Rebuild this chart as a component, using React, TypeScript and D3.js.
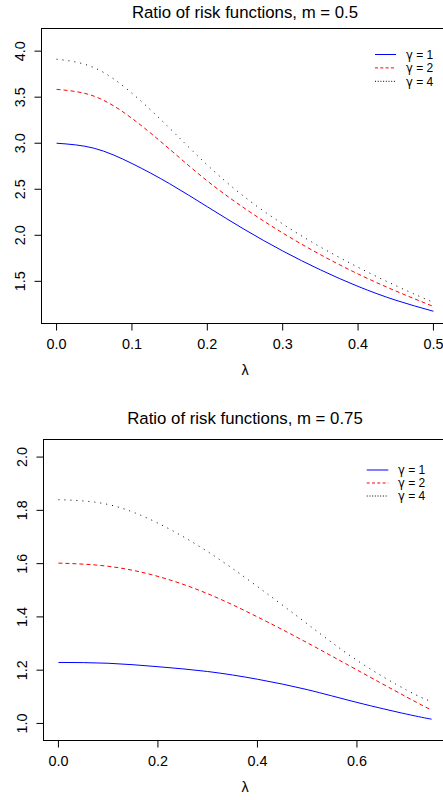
import * as d3 from 'd3';

// lambda grid and ratio values
const lambdaTop = [0, 0.05, 0.1, 0.15, 0.2, 0.25, 0.3, 0.35, 0.4, 0.45, 0.5];
const topGamma1 = [3.0, 2.945, 2.78, 2.56, 2.31, 2.06, 1.83, 1.625, 1.445, 1.295, 1.175];
const topGamma2 = [3.585, 3.51, 3.27, 2.935, 2.59, 2.29, 2.025, 1.79, 1.58, 1.395, 1.227];
const topGamma4 = [3.913, 3.82, 3.543, 3.163, 2.763, 2.413, 2.123, 1.873, 1.653, 1.453, 1.27];

const lambdaBottom = [0, 0.1, 0.2, 0.3, 0.4, 0.5, 0.6, 0.7, 0.75];
const bottomGamma1 = [1.229, 1.226, 1.213, 1.195, 1.166, 1.127, 1.079, 1.035, 1.016];
const bottomGamma2 = [1.602, 1.59, 1.552, 1.487, 1.4, 1.303, 1.201, 1.099, 1.05];
const bottomGamma4 = [1.84, 1.822, 1.752, 1.645, 1.514, 1.374, 1.237, 1.125, 1.082];

const topXTicks = [0, 0.1, 0.2, 0.3, 0.4, 0.5];
const topYTicks = [1.5, 2.0, 2.5, 3.0, 3.5, 4.0];
const bottomXTicks = [0, 0.2, 0.4, 0.6];
const bottomYTicks = [1.0, 1.2, 1.4, 1.6, 1.8, 2.0];

const legendValues = ['1', '2', '4'];

const seriesStyle = [
  { color: '#0000ff', dash: null, legendDash: null },
  { color: '#ff0000', dash: '4,3', legendDash: '3,2.3' },
  { color: '#000000', dash: '1,5', legendDash: '1,1.7' },
];

const font = '"Liberation Sans", Arial, Helvetica, sans-serif';
const fmt = d3.format('.1f');

const Panel = ({ title, lambda, series, xDomain, yDomain, frame, xTicks, yTicks, legend, titleY, xLabelY, yLabelX }) => {
  const x = d3.scaleLinear().domain(xDomain).range([frame.left, frame.right]);
  const y = d3.scaleLinear().domain(yDomain).range([frame.bottom, frame.top]);
  const line = d3
    .line()
    .x(d => x(d[0]))
    .y(d => y(d[1]))
    .curve(d3.curveNatural);

  const cx = (frame.left + frame.right) / 2;

  return (
    <g>
      <text x={cx} y={titleY} textAnchor="middle" fontSize={16.8} fontFamily={font}>
        {title}
      </text>
      <rect
        x={frame.left}
        y={frame.top}
        width={frame.right - frame.left}
        height={frame.bottom - frame.top}
        fill="none"
        stroke="#000"
        strokeWidth={1}
      />
      {series.map((vals, i) => (
        <path
          key={i}
          d={line(lambda.map((l, j) => [l, vals[j]]))}
          fill="none"
          stroke={seriesStyle[i].color}
          strokeWidth={1}
          strokeDasharray={seriesStyle[i].dash || undefined}
        />
      ))}
      {xTicks.map(t => (
        <g key={'x' + t}>
          <line x1={x(t)} x2={x(t)} y1={frame.bottom} y2={frame.bottom + 7} stroke="#000" />
          <text
            x={x(t)}
            y={frame.bottom + 20}
            dy="0.35em"
            textAnchor="middle"
            fontSize={14.4}
            fontFamily={font}
          >
            {fmt(t)}
          </text>
        </g>
      ))}
      {yTicks.map(t => (
        <g key={'y' + t}>
          <line x1={frame.left - 7} x2={frame.left} y1={y(t)} y2={y(t)} stroke="#000" />
          <text
            transform={`translate(${yLabelX},${y(t)}) rotate(-90)`}
            dy="0.35em"
            textAnchor="middle"
            fontSize={14.4}
            fontFamily={font}
          >
            {fmt(t)}
          </text>
        </g>
      ))}
      <text x={cx} y={xLabelY} dy="0.35em" textAnchor="middle" fontSize={14.4} fontFamily={font}>
        λ
      </text>
      {legendValues.map((v, i) => (
        <g key={v}>
          <line
            x1={legend.x1}
            x2={legend.x2}
            y1={legend.y + i * legend.step}
            y2={legend.y + i * legend.step}
            stroke={seriesStyle[i].color}
            strokeWidth={1}
            strokeDasharray={seriesStyle[i].legendDash || undefined}
          />
          <text
            x={legend.tx}
            y={legend.y + i * legend.step}
            dy="0.36em"
            fontSize={12}
            fontFamily={font}
          >
            <tspan fontFamily='"DejaVu Sans", sans-serif' fontSize={11.5}>γ</tspan>
            {' = ' + v}
          </text>
        </g>
      ))}
    </g>
  );
};

export default function App() {
  return (
    <svg
      width={443}
      height={800}
      style={{ position: 'absolute', left: 0, top: 0, background: '#fff' }}
    >
      <rect width={443} height={800} fill="#fff" />
      <Panel
        title="Ratio of risk functions, m = 0.5"
        lambda={lambdaTop}
        series={[topGamma1, topGamma2, topGamma4]}
        xDomain={[-0.02, 0.52]}
        yDomain={[1.042, 4.246]}
        frame={{ left: 41.5, right: 448.5, top: 28.5, bottom: 323.5 }}
        xTicks={topXTicks}
        yTicks={topYTicks}
        legend={{ x1: 375, x2: 396, tx: 406, y: 54.5, step: 13.4 }}
        titleY={17.5}
        xLabelY={370}
        yLabelX={20}
      />
      <Panel
        title="Ratio of risk functions, m = 0.75"
        lambda={lambdaBottom}
        series={[bottomGamma1, bottomGamma2, bottomGamma4]}
        xDomain={[-0.03, 0.78]}
        yDomain={[0.936, 2.066]}
        frame={{ left: 43.5, right: 446.5, top: 439.5, bottom: 740.5 }}
        xTicks={bottomXTicks}
        yTicks={bottomYTicks}
        legend={{ x1: 366.7, x2: 388.3, tx: 398, y: 470, step: 13 }}
        titleY={424.3}
        xLabelY={787}
        yLabelX={21.5}
      />
    </svg>
  );
}
